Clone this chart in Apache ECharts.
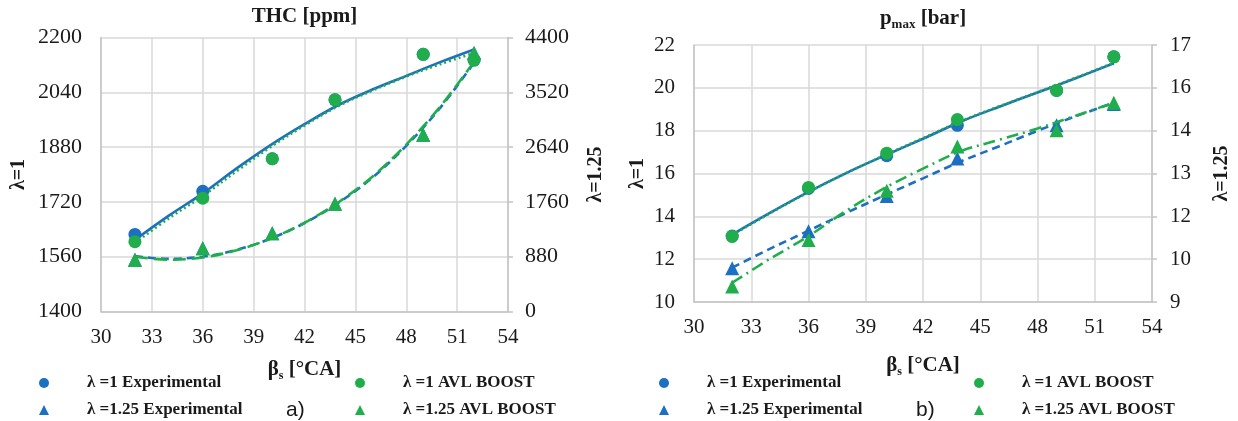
<!DOCTYPE html>
<html><head><meta charset="utf-8">
<script src="https://cdn.jsdelivr.net/npm/echarts@6/dist/echarts.min.js"></script>
<style>html,body{margin:0;padding:0;background:#fff}#c{width:1238px;height:421px}</style>
</head><body><div id="c"></div>
<script>
// ---- data ----
const betaS = [32, 36, 40.1, 43.8, 49, 52];           // measured start of combustion [°CA]
const trendX = [32, 34, 36, 38, 40, 42, 44, 46, 48, 50, 52];

// THC [ppm]
const thcExp1   = [1625, 1751, 1846, 2018, 2151, 2134];
const thcAvl1   = [1604, 1731, 1846, 2018, 2151, 2134];
const thcExp125 = [830, 1017, 1258, 1729, 2837, 4151];
const thcAvl125 = [830, 1017, 1258, 1729, 2837, 4151];
const thcExp1Trend   = [1609, 1680, 1745, 1818, 1886, 1947, 2003, 2048, 2088, 2128, 2165];
const thcAvl1Trend   = [1600, 1672, 1737, 1810, 1880, 1943, 2000, 2045, 2086, 2122, 2155];
const thcExp125Trend = [891, 845, 880, 990, 1170, 1420, 1745, 2150, 2660, 3270, 3995];
const thcAvl125Trend = [880, 830, 868, 985, 1170, 1425, 1755, 2165, 2680, 3290, 4010];

// p_max [bar]
const pExp1   = [13.08, 15.3, 16.83, 18.25, 19.88, 21.45];
const pAvl1   = [13.06, 15.35, 16.95, 18.52, 19.88, 21.45];
const pExp125 = [10.05, 11.2, 12.3, 13.47, 14.5, 15.16];
const pAvl125 = [9.48, 10.93, 12.46, 13.84, 14.35, 15.2];
const pExp1Trend   = [13.15, 14.17, 15.14, 16.03, 16.84, 17.62, 18.43, 19.12, 19.78, 20.45, 21.15];
const pAvl1Trend   = [13.12, 14.15, 15.13, 16.03, 16.86, 17.65, 18.45, 19.14, 19.8, 20.47, 21.17];
const pExp125Trend = [10.07, 10.66, 11.22, 11.78, 12.32, 12.85, 13.38, 13.85, 14.33, 14.78, 15.2];
const pAvl125Trend = [9.6, 10.35, 11.05, 11.85, 12.55, 13.15, 13.7, 14.05, 14.4, 14.8, 15.2];

// labels
const names = ['λ =1 Experimental', 'λ =1.25 Experimental', 'λ =1 AVL BOOST', 'λ =1.25 AVL BOOST'];

// ---- styling ----
const SERIF = '"Liberation Serif","Times New Roman",serif';
const SANS = '"Liberation Sans",Arial,sans-serif';
const TXT = '#1a1a1a';
const BLUE = '#1c6fc1', GREEN = '#1fae4b';
const AXC = '#c4c4c4', GRC = '#d9d9d9';
const zip = (xs, ys) => xs.map((x, i) => [x, ys[i]]);
const plain = v => String(Math.round(v));

function xAx(gi, fs, margin, gap) {
  return {
    type: 'value', gridIndex: gi, min: 30, max: 54, interval: 3,
    axisLine: { show: true, lineStyle: { color: AXC, width: 1.5 } },
    axisTick: { show: false },
    axisLabel: { fontFamily: SERIF, fontSize: fs, color: TXT, margin: margin, formatter: plain },
    splitLine: { show: true, lineStyle: { color: GRC, width: 1.5 } },
    name: '{b|β}{s|s}{b| [°CA]}', nameLocation: 'middle', nameGap: gap, nameMoveOverlap: false,
    nameTextStyle: { rich: {
      b: { fontFamily: SERIF, fontWeight: 'bold', fontSize: 21, color: TXT, lineHeight: 24 },
      s: { fontFamily: SERIF, fontWeight: 'bold', fontSize: 12, color: TXT, verticalAlign: 'bottom', lineHeight: 24 }
    } }
  };
}
function yAx(gi, pos, min, max, extra, fs, margin, name, gap) {
  const a = {
    type: 'value', gridIndex: gi, position: pos, min: min, max: max,
    axisLine: { show: true, lineStyle: { color: AXC, width: 1.5 } },
    axisTick: { show: pos === 'right', length: 5, inside: false, lineStyle: { color: AXC, width: 1.5 } },
    axisLabel: { fontFamily: SERIF, fontSize: fs, color: TXT, margin: margin, formatter: plain },
    splitLine: { show: pos === 'left', lineStyle: { color: GRC, width: 1.5 } },
    name: name, nameLocation: 'middle', nameRotate: 90, nameGap: gap, nameMoveOverlap: false,
    nameTextStyle: { fontFamily: SERIF, fontWeight: 'bold', fontSize: 20, color: TXT }
  };
  return Object.assign(a, extra);
}
function scat(name, gi, yi, xs, ys, sym, color, z) {
  return { type: 'scatter', name: name, xAxisIndex: gi, yAxisIndex: yi, data: zip(xs, ys),
    symbol: sym, symbolSize: sym === 'circle' ? 13 : 14, itemStyle: { color: color, opacity: 1 }, z: z, silent: true };
}
function trend(id, gi, yi, ys, color, type) {
  return { type: 'line', name: id, xAxisIndex: gi, yAxisIndex: yi, data: zip(trendX, ys),
    smooth: 0.35, symbol: 'none', showSymbol: false, silent: true, z: 3,
    lineStyle: { color: color, width: 2.6, type: type, cap: 'butt' } };
}
function leg(items, left, pad) {
  return { data: items, orient: 'vertical', left: left, top: 374, padding: 0,
    itemWidth: 10, itemHeight: 10, itemGap: 9, selectedMode: false,
    textStyle: { fontFamily: SERIF, fontWeight: 'bold', fontSize: 17, color: TXT, lineHeight: 18, padding: [0, 0, 0, pad] } };
}

const chart = echarts.init(document.getElementById('c'), null, { renderer: 'canvas' });
chart.setOption({
  animation: false,
  backgroundColor: '#ffffff',
  title: [
    { text: 'THC [ppm]', left: 304.5, top: 4.5, textAlign: 'center', padding: 0,
      textStyle: { fontFamily: SERIF, fontWeight: 'bold', fontSize: 21, color: TXT, lineHeight: 24 } },
    { text: '{b|p}{s|max}{b| [bar]}', left: 923, top: 7, textAlign: 'center', padding: 0,
      textStyle: { rich: {
        b: { fontFamily: SERIF, fontWeight: 'bold', fontSize: 21, color: TXT, lineHeight: 24 },
        s: { fontFamily: SERIF, fontWeight: 'bold', fontSize: 13, color: TXT, verticalAlign: 'bottom', lineHeight: 24 } } } },
    { text: 'a)', left: 286, top: 398, padding: 0,
      textStyle: { fontFamily: SANS, fontWeight: 'normal', fontSize: 21, color: TXT, lineHeight: 24 } },
    { text: 'b)', left: 916, top: 398, padding: 0,
      textStyle: { fontFamily: SANS, fontWeight: 'normal', fontSize: 21, color: TXT, lineHeight: 24 } }
  ],
  legend: [
    leg([names[0], names[1]], 39, 33),
    leg([names[2], names[3]], 355, 33),
    leg([names[0], names[1]], 659, 33),
    leg([names[2], names[3]], 974, 33)
  ],
  grid: [
    { left: 101, top: 37.5, width: 407, height: 274, outerBoundsMode: 'none', containLabel: false },
    { left: 694, top: 45, width: 458, height: 257, outerBoundsMode: 'none', containLabel: false }
  ],
  xAxis: [ xAx(0, 21, 15, 46), xAx(1, 21, 15, 52) ],
  yAxis: [
    yAx(0, 'left', 1400, 2200, { alignTicks: true }, 22, 19, 'λ=1', 72),
    yAx(0, 'right', 0, 4400, { interval: 880 }, 22, 17, 'λ=1.25', 78),
    yAx(1, 'left', 10, 22, { interval: 2 }, 21, 19, 'λ=1', 46),
    yAx(1, 'right', 9, 17, { alignTicks: true }, 21, 18, 'λ=1.25', 60)
  ],
  series: [
    // THC chart
    scat(names[0], 0, 0, betaS, thcExp1, 'circle', BLUE, 2),
    scat(names[1], 0, 1, betaS, thcExp125, 'triangle', BLUE, 2),
    trend('thcExp1Trend', 0, 0, thcExp1Trend, BLUE, 'solid'),
    trend('thcAvl1Trend', 0, 0, thcAvl1Trend, GREEN, [2, 3]),
    trend('thcExp125Trend', 0, 1, thcExp125Trend, BLUE, [8, 5]),
    trend('thcAvl125Trend', 0, 1, thcAvl125Trend, GREEN, [13, 6]),
    scat(names[2], 0, 0, betaS, thcAvl1, 'circle', GREEN, 4),
    scat(names[3], 0, 1, betaS, thcAvl125, 'triangle', GREEN, 4),
    // p_max chart
    scat(names[0], 1, 2, betaS, pExp1, 'circle', BLUE, 2),
    scat(names[1], 1, 3, betaS, pExp125, 'triangle', BLUE, 2),
    trend('pExp1Trend', 1, 2, pExp1Trend, BLUE, 'solid'),
    trend('pAvl1Trend', 1, 2, pAvl1Trend, GREEN, [2, 3]),
    trend('pExp125Trend', 1, 3, pExp125Trend, BLUE, [8, 5]),
    trend('pAvl125Trend', 1, 3, pAvl125Trend, GREEN, [12, 5, 2, 5]),
    scat(names[2], 1, 2, betaS, pAvl1, 'circle', GREEN, 4),
    scat(names[3], 1, 3, betaS, pAvl125, 'triangle', GREEN, 4)
  ]
});
</script></body></html>
